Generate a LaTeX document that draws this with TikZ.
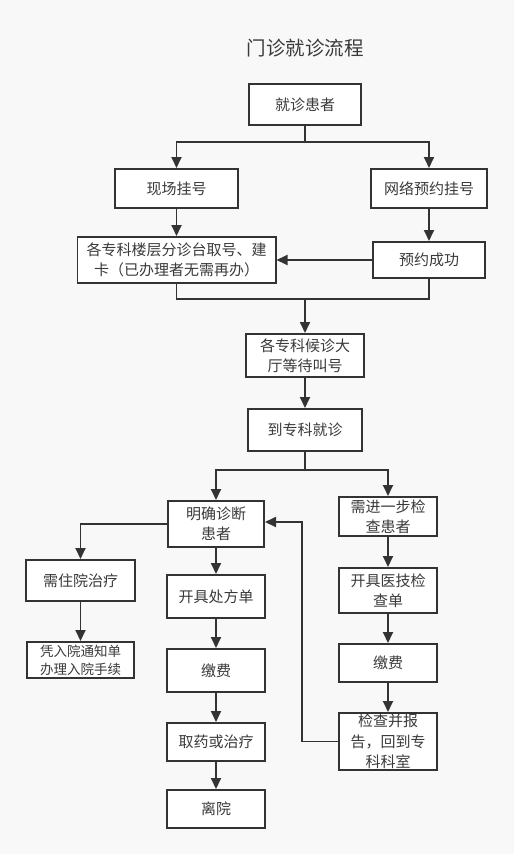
\documentclass[tikz,border=0pt]{standalone}
\usepackage{fontspec}
\setmainfont{Noto Sans CJK SC}
\usepackage{tikz}
\usetikzlibrary{arrows.meta,positioning}

\definecolor{pagebg}{HTML}{F8F8F8}
\definecolor{linegray}{HTML}{333333}
\definecolor{textgray}{HTML}{3A3A3A}

\tikzset{
  box/.style 2 args={draw=linegray,line width=1.8pt,fill=white,align=center,inner sep=1pt,
    minimum width=#1pt-1.8pt,minimum height=#2pt-1.8pt,text=textgray,font=\fontsize{15}{20.5}\selectfont},
  flow/.style={draw=linegray,line width=1.8pt,-{Triangle[width=10pt,length=11pt]}},
  link/.style={draw=linegray,line width=1.8pt}
}

\begin{document}
\begin{tikzpicture}[x=1pt,y=-1pt]
      \fill[pagebg] (0,0) rectangle (514,854);
      \useasboundingbox (0,0) rectangle (514,854);

      \node[text=textgray,font=\fontsize{19.5}{22}\selectfont] (title) at (305,48) {门诊就诊流程};

      \node[box={114}{43}] (visit)  at (305,104.5) {就诊患者};
      \node[box={125}{41}] (onsite) at (176.5,188.5) {现场挂号};
      \node[box={118}{41}] (online) at (429,188.5) {网络预约挂号};
      \node[box={200}{48}] (desk)   [below=27pt of onsite] {各专科楼层分诊台取号、建\\卡（已办理者无需再办）};
      \node[box={114}{38}] (booked) [below=32pt of online] {预约成功};
      \node[box={120}{45}] (wait)   at (305,355.5) {各专科候诊大\\厅等待叫号};
      \node[box={116}{44}] (clinic) [below=30pt of wait] {到专科就诊};

      \node[box={98}{48}]  (diag)   at (216,524) {明确诊断\\患者};
      \node[box={100}{41}] (exam)   at (388,516.5) {需进一步检\\查患者};
      \node[box={111}{43}] (inpat)  at (80.5,580.5) {需住院治疗};
      \node[box={109}{38},font=\fontsize{13.5}{18}\selectfont] (admit) [below=39pt of inpat] {凭入院通知单\\办理入院手续};

      \node[box={100}{45}] (rx)     [below=26pt of diag] {开具处方单};
      \node[box={100}{45}] (pay1)   [below=29pt of rx] {缴费};
      \node[box={100}{40}] (take)   [below=29pt of pay1] {取药或治疗};
      \node[box={100}{40}] (leave)  [below=27pt of take] {离院};

      \node[box={100}{47}] (order)  [below=30pt of exam] {开具医技检\\查单};
      \node[box={100}{40}] (pay2)   [below=29pt of order] {缴费};
      \node[box={100}{59}] (report) [below=29pt of pay2] {检查并报\\告，回到专\\科科室};

      \coordinate (split1) at (305,142);
      \coordinate (join1)  at (305,299);
      \coordinate (split2) at (305,470);

      \path[flow] (visit) -- (split1) -| (onsite);
      \path[flow] (split1) -| (online);
      \path[flow] (onsite) -- (desk);
      \path[flow] (online) -- (booked);
      \path[flow] (booked) -- (desk);
      \path[link] (desk) |- (join1) -| (booked);
      \path[flow] (join1) -- (wait);
      \path[flow] (wait) -- (clinic);
      \path[flow] (clinic) -- (split2) -| (diag);
      \path[flow] (split2) -| (exam);
      \path[flow] (diag.west) -| (inpat);
      \path[flow] (inpat) -- (admit);
      \path[flow] (diag) -- (rx);
      \path[flow] (rx) -- (pay1);
      \path[flow] (pay1) -- (take);
      \path[flow] (take) -- (leave);
      \path[flow] (exam) -- (order);
      \path[flow] (order) -- (pay2);
      \path[flow] (pay2) -- (report);
      \path[flow] (report.west) -- ++(-36,0) |- ([yshift=2pt]diag.east);
    \end{tikzpicture}
\end{document}
